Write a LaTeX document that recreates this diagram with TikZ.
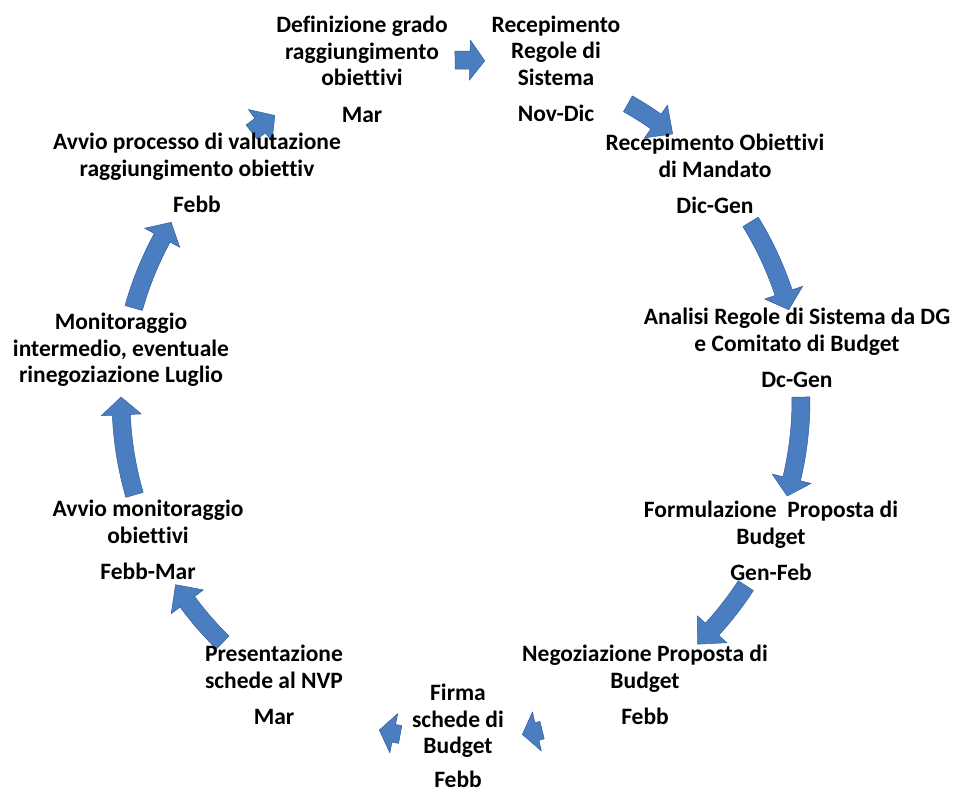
\documentclass[tikz,border=0pt]{standalone}
\usepackage{fontspec}
\setmainfont{Carlito}[Ligatures=NoCommon]
\usepackage{tikz}

\definecolor{arrowblue}{RGB}{74,126,193}
\definecolor{arrowedge}{RGB}{46,94,158}

\tikzset{
  fase/.style={align=center, inner sep=0pt,
    font=\fontsize{23.5}{26.5}\selectfont\bfseries},
  freccia/.style={fill=arrowblue, draw=arrowedge, line width=0.5pt, line join=round}
}

\begin{document}
\begin{tikzpicture}[x=1pt, y=1pt]
\useasboundingbox (-461,-393) rectangle (496,400);
\def\r{340}
\def\w{9}
% block arrows on the circle: from/to/head length (deg)/head half width
\foreach \a/\b/\hd/\hw in {91/86/2.5/20, 60.6/51.5/3.5/20, 31.6/15.4/3/20,
    0.5/-16.4/3/20, -33.1/-45.9/3.5/20, -76.2/-79.6/2.5/20,
    -100.3/-103.9/2.5/20, -134.5/-147.1/3.5/20, -163.8/-180.5/3/20,
    164.3/148.5/3/20, 128/123.2/3/20}
  \draw[freccia] ({\a}:{\r+\w}) arc[start angle=\a, end angle=\b+\hd, radius=\r+\w]
    -- ({\b+\hd}:{\r+\hw}) -- ({\b}:{\r}) -- ({\b+\hd}:{\r-\hw})
    -- ({\b+\hd}:{\r-\w}) arc[start angle=\b+\hd, end angle=\a, radius=\r-\w] -- cycle;

\node[fase] (defgrado) at (-99,330.5) {Definizione grado\\raggiungimento\\obiettivi\\[10pt]Mar};
\node[fase] (regole) at (95,331) {Recepimento\\Regole di\\Sistema\\[10pt]Nov-Dic};
\node[fase] (mandato) at (254,226) {Recepimento Obiettivi\\di Mandato\\[10pt]Dic-Gen};
\node[fase] (analisi) at (336,52) {Analisi Regole di Sistema da DG\\e Comitato di Budget\\[10pt]Dc-Gen};
\node[fase] (formulazione) at (310,-141) {Formulazione~ Proposta di\\Budget\\[10pt]Gen-Feb};
\node[fase] (negoziazione) at (184,-285) {Negoziazione Proposta di\\Budget\\[10pt]Febb};
\node[fase] (firma) at (-3,-336) {Firma\\schede di\\Budget\\[7pt]Febb};
\node[fase] (presentazione) at (-187,-285) {Presentazione\\schede al NVP\\[10pt]Mar};
\node[fase] (avviomon) at (-313,-140) {Avvio monitoraggio\\obiettivi\\[10pt]Febb-Mar};
\node[fase] (intermedio) at (-340,50) {Monitoraggio\\intermedio, eventuale\\rinegoziazione Luglio};
\node[fase] (valutazione) at (-264,227) {Avvio processo di valutazione\\raggiungimento obiettiv\\[10pt]Febb};
\end{tikzpicture}
\end{document}
